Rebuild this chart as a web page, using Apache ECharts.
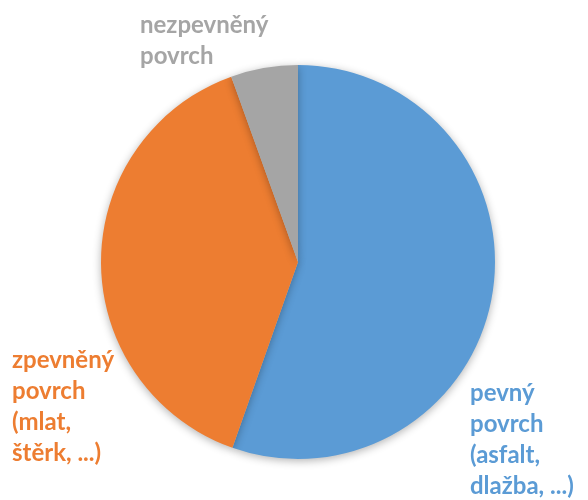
<!DOCTYPE html>
<html>
<head>
<meta charset="utf-8">
<script src="https://cdn.jsdelivr.net/npm/echarts@6/dist/echarts.min.js"></script>
<style>html,body{margin:0;padding:0;background:#fff}</style>
</head>
<body>
<div id="chart" style="width:588px;height:500px;"></div>
<script type="text/javascript">
	// kategorie a hodnoty (podíl v %)
	var categories = ['pevný\npovrch\n(asfalt,\ndlažba, ...)', 'zpevněný\npovrch\n(mlat,\nštěrk, ...)', 'nezpevněný\npovrch'];
	var values = [55.4, 39.1, 5.5];
	var colors = ['#5B9BD5', '#ED7D31', '#A5A5A5'];

	// umístění popisků (levý horní roh)
	var labelPos = [[470, 378], [12, 345], [140, 10]];

	var myChart = echarts.init(document.getElementById('chart'));
	var option = {
		animation: false,
		series: [
			{
				type: 'pie',
				center: [298, 262],
				radius: 197,
				startAngle: 90,
				clockwise: true,
				avoidLabelOverlap: false,
				itemStyle: {
					borderWidth: 0,
					shadowBlur: 8,
					shadowOffsetY: 2,
					shadowColor: 'rgba(0,0,0,0.3)'
				},
				label: {
					show: true,
					position: 'outside',
					formatter: '{b}',
					fontFamily: 'Lato',
					fontWeight: 'bold',
					fontSize: 24,
					lineHeight: 31
				},
				labelLine: { show: false },
				labelLayout: function (params) {
					var p = labelPos[params.dataIndex];
					return { x: p[0], y: p[1], align: 'left', verticalAlign: 'top' };
				},
				data: values.map(function (v, i) {
					return {
						name: categories[i],
						value: v,
						itemStyle: { color: colors[i] },
						label: { color: colors[i] }
					};
				})
			}
		]
	};
	myChart.setOption(option);
</script>
</body>
</html>
